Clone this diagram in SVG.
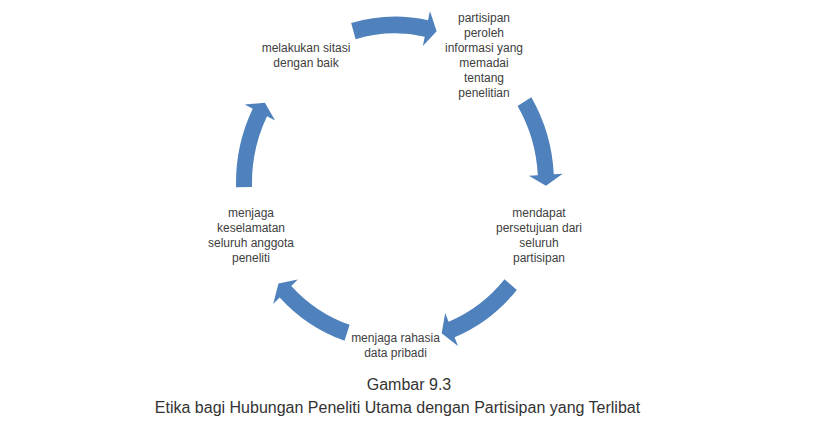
<svg xmlns="http://www.w3.org/2000/svg" xmlns:xlink="http://www.w3.org/1999/xlink" width="824" height="448" viewBox="0 0 824 448">
  <style>
    .lbl { font-family: "Liberation Sans", Arial, sans-serif; font-size: 12px; fill: #404040; text-anchor: middle; }
    .cap { font-family: "Liberation Sans", Arial, sans-serif; font-size: 16px; fill: #333333; text-anchor: middle; }
    .arr { fill: #4F81BD; }
  </style>
  <defs>
    <path id="arrow" class="arr" d="M -43.82 -152.85 A 159 159 0 0 1 33.06 -155.52 L 34.93 -164.32 L 41.62 -145.15 L 27.86 -131.07 L 29.73 -139.87 A 143 143 0 0 0 -39.41 -137.47 Z"/>
  </defs>
  <rect width="824" height="448" fill="#ffffff"/>
  <g id="connectors" transform="translate(395,183) scale(1,1.046)">
    <use id="arrow-1" xlink:href="#arrow" href="#arrow"/>
    <use id="arrow-2" xlink:href="#arrow" href="#arrow" transform="rotate(75)"/>
    <use id="arrow-3" xlink:href="#arrow" href="#arrow" transform="rotate(146)"/>
    <use id="arrow-4" xlink:href="#arrow" href="#arrow" transform="rotate(214.5)"/>
    <use id="arrow-5" xlink:href="#arrow" href="#arrow" transform="rotate(284.5)"/>
  </g>
  <g id="node-sitasi">
    <text class="lbl" x="306" y="51.5">melakukan sitasi</text>
    <text class="lbl" x="306" y="66.5">dengan baik</text>
  </g>
  <g id="node-informasi">
    <text class="lbl" x="484" y="21.5">partisipan</text>
    <text class="lbl" x="484" y="36.5">peroleh</text>
    <text class="lbl" x="484" y="51.5">informasi yang</text>
    <text class="lbl" x="484" y="66.5">memadai</text>
    <text class="lbl" x="484" y="81.5">tentang</text>
    <text class="lbl" x="484" y="96.5">penelitian</text>
  </g>
  <g id="node-persetujuan">
    <text class="lbl" x="539" y="216.5">mendapat</text>
    <text class="lbl" x="539" y="231.5">persetujuan dari</text>
    <text class="lbl" x="539" y="246.5">seluruh</text>
    <text class="lbl" x="539" y="261.5">partisipan</text>
  </g>
  <g id="node-rahasia">
    <text class="lbl" x="395.5" y="341.5">menjaga rahasia</text>
    <text class="lbl" x="395.5" y="356.5">data pribadi</text>
  </g>
  <g id="node-keselamatan">
    <text class="lbl" x="251" y="216.5">menjaga</text>
    <text class="lbl" x="251" y="231.5">keselamatan</text>
    <text class="lbl" x="251" y="246.5">seluruh anggota</text>
    <text class="lbl" x="251" y="261.5">peneliti</text>
  </g>
  <g id="caption">
    <text class="cap" x="409" y="390">Gambar 9.3</text>
    <text class="cap" x="397.5" y="413">Etika bagi Hubungan Peneliti Utama dengan Partisipan yang Terlibat</text>
  </g>
</svg>
